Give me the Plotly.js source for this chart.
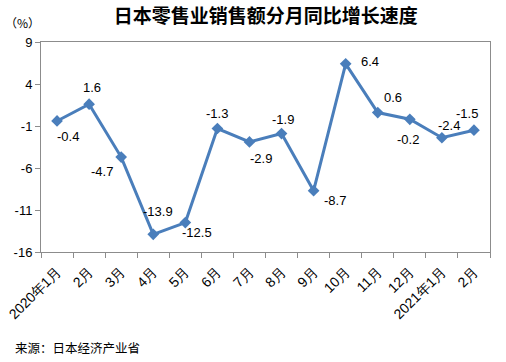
<!DOCTYPE html>
<html>
<head>
<meta charset="utf-8">
<script src="https://cdn.plot.ly/plotly-3.0.1.min.js"></script>
<style>html,body{margin:0;padding:0;background:#fff;}#chart{width:506px;height:362px;}</style>
</head>
<body>
<div id="chart"></div>
<script>
const months = ["2020年1月","2月","3月","4月","5月","6月","7月","8月","9月","10月","11月","12月","2021年1月","2月"];
const growth = [-0.4, 1.6, -4.7, -13.9, -12.5, -1.3, -2.9, -1.9, -8.7, 6.4, 0.6, -0.2, -2.4, -1.5];
const yTicks = [9, 4, -1, -6, -11, -16];
// label offsets in pixels (style only)
const labelDx = [11, 3, -19, 5, 12, 0, 12, 1, 21, 24, 15, -2, 7, -7];
const labelDy = [16, -17, 14, -23, 10, -15, 17, -14, 10, -2, -15, 20, -12, -17];

const idx = months.map((m, i) => i);
const lineColor = "#4A7EBB";
const axisColor = "#8C8C8C";
const labelFont = {family: "Liberation Sans, Arial, sans-serif", size: 13, color: "#000"};

const annotations = growth.map((v, i) => ({
  x: idx[i], y: v, xref: "x", yref: "y",
  text: v.toFixed(1), showarrow: false,
  xshift: labelDx[i], yshift: -labelDy[i],
  font: labelFont
}));
annotations.push({
  text: "（%）", xref: "paper", yref: "paper", x: -0.085, y: 1.045,
  xanchor: "left", yanchor: "bottom", showarrow: false,
  font: {family: "Noto Sans CJK SC, sans-serif", size: 12, color: "#000"}
});
annotations.push({
  text: "来源：日本经济产业省", xref: "paper", yref: "paper", x: -0.062, y: -0.455,
  xanchor: "left", yanchor: "middle", showarrow: false,
  font: {family: "Noto Sans CJK SC, sans-serif", size: 12.5, color: "#000"}
});

const trace = {
  x: idx, y: growth, type: "scatter", mode: "lines+markers",
  line: {color: lineColor, width: 3},
  marker: {symbol: "diamond", size: 9, color: lineColor},
  hoverinfo: "none"
};

const layout = {
  width: 506, height: 362,
  margin: {l: 41, r: 16, t: 42, b: 110},
  paper_bgcolor: "#fff", plot_bgcolor: "#fff",
  showlegend: false,
  title: {
    text: "<b>日本零售业销售额分月同比增长速度</b>",
    font: {family: "Noto Sans CJK SC, sans-serif", size: 19, color: "#000"},
    x: 0.525, xanchor: "center", y: 0.955, yanchor: "middle"
  },
  xaxis: {
    type: "linear", range: [-0.5, months.length - 0.5],
    tickmode: "array", tickvals: idx, ticktext: months,
    tickangle: -45, ticks: "", ticklabelstandoff: 5,
    minor: {tick0: -0.5, dtick: 1, ticks: "outside", ticklen: 5, tickcolor: axisColor, showgrid: false},
    showline: true, linecolor: axisColor, linewidth: 1,
    mirror: true, showgrid: false, zeroline: false,
    tickfont: {family: "Liberation Sans, Arial, sans-serif", size: 14, color: "#000"}
  },
  yaxis: {
    range: [-16, 9], tickvals: yTicks, ticktext: yTicks.map(String),
    ticks: "outside", ticklen: 5, tickcolor: axisColor,
    showline: true, linecolor: axisColor, linewidth: 1, mirror: true,
    showgrid: false, zeroline: false, tickfont: labelFont
  },
  annotations: annotations
};

Plotly.newPlot("chart", [trace], layout, {staticPlot: true, displayModeBar: false});
</script>
</body>
</html>
